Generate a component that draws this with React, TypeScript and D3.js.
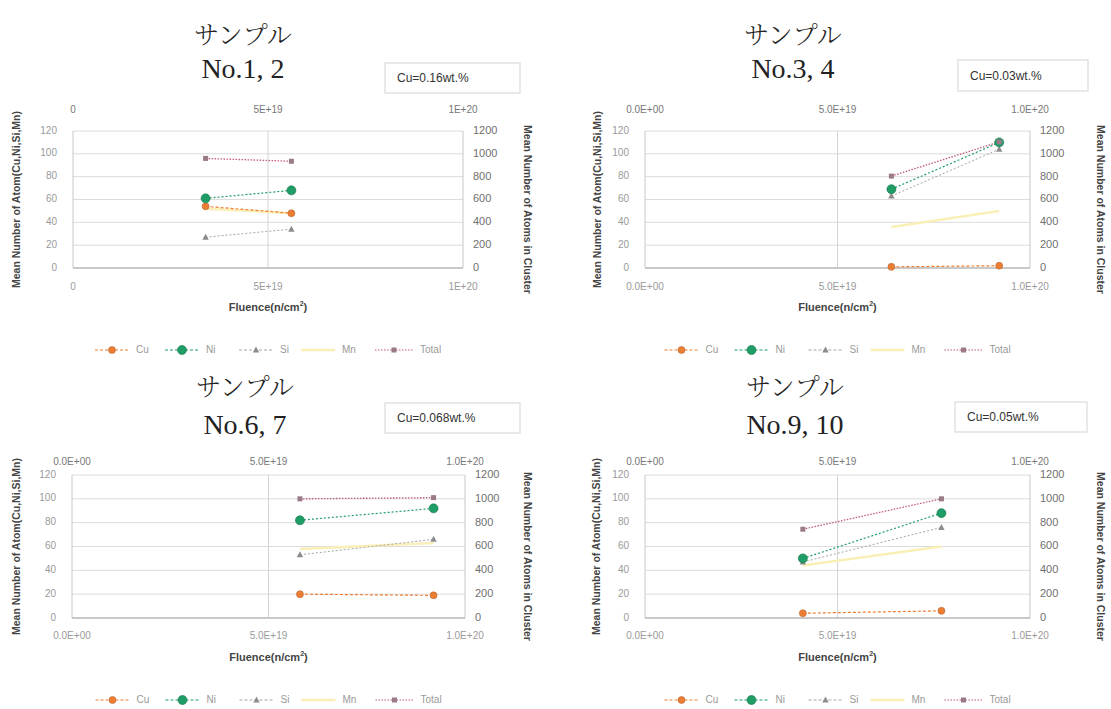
import React from "react";
import * as d3 from "d3";

const panelTitles = ["No.1, 2", "No.3, 4", "No.6, 7", "No.9, 10"];
const cuContents = ["Cu=0.16wt.%", "Cu=0.03wt.%", "Cu=0.068wt.%", "Cu=0.05wt.%"];
const fluence = [
  [3.4e19, 5.6e19],
  [6.4e19, 9.2e19],
  [5.8e19, 9.2e19],
  [4.1e19, 7.7e19],
];
const cuValues = [[54, 48], [1, 2], [20, 19], [4, 6]];
const niValues = [[61, 68], [69, 110], [82, 92], [50, 88]];
const siValues = [[27, 34], [63, 104], [53, 66], [47, 76]];
const mnValues = [[52, 48], [36, 50], [58, 63], [44, 60]];
const totalValues = [[960, 935], [805, 1105], [1000, 1010], [745, 1000]];
const leftTicks = [0, 20, 40, 60, 80, 100, 120];
const rightTicks = [0, 200, 400, 600, 800, 1000, 1200];
const xTickValues = [0, 5e19, 1e20];
const xTickLabelsShort = ["0", "5E+19", "1E+20"];
const xTickLabelsSci = ["0.0E+00", "5.0E+19", "1.0E+20"];
const seriesNames = ["Cu", "Ni", "Si", "Mn", "Total"];

const COLORS: Record<string, string> = {
  Cu: "#ED7D31",
  Ni: "#1E9E66",
  Si: "#A5A5A5",
  Mn: "#FBEFB8",
  Total: "#C05A78",
};

const layouts = [
  { px0: 73, px1: 463, py0: 131, py1: 268, tx: 243, t1: 38, t2: 72, box: [385, 63, 135, 30], topLab: 110, botLab: 287, flu: 308, leg: 350, lt: 17, rt: 527, lab: xTickLabelsShort },
  { px0: 645, px1: 1030, py0: 131, py1: 268, tx: 793, t1: 38, t2: 72, box: [958, 60, 130, 31], topLab: 110, botLab: 287, flu: 308, leg: 350, lt: 598, rt: 1100, lab: xTickLabelsSci },
  { px0: 72, px1: 465, py0: 475, py1: 618, tx: 245, t1: 390, t2: 428, box: [385, 403, 135, 30], topLab: 462, botLab: 636, flu: 658, leg: 700, lt: 17, rt: 527, lab: xTickLabelsSci },
  { px0: 645, px1: 1030, py0: 475, py1: 618, tx: 795, t1: 390, t2: 428, box: [955, 402, 132, 30], topLab: 462, botLab: 636, flu: 658, leg: 700, lt: 597, rt: 1100, lab: xTickLabelsSci },
];

function Marker({ name, x, y }: { name: string; x: number; y: number }) {
  const c = COLORS[name];
  if (name === "Cu") return <circle cx={x} cy={y} r={3.5} fill={c} stroke="#b36a3a" strokeWidth={0.6} />;
  if (name === "Ni") return <circle cx={x} cy={y} r={4.5} fill={c} stroke="#17704a" strokeWidth={0.6} />;
  if (name === "Si") return <path d={`M${x},${y - 3.5}L${x + 3.2},${y + 2.5}L${x - 3.2},${y + 2.5}Z`} fill="#8c8c8c" />;
  if (name === "Total") return <rect x={x - 2.5} y={y - 2.5} width={5} height={5} fill="#9a7a88" />;
  return null;
}

function Panel({ i }: { i: number }) {
  const L = layouts[i];
  const x = d3.scaleLinear().domain([0, 1e20]).range([L.px0, L.px1]);
  const yL = d3.scaleLinear().domain([0, 120]).range([L.py1, L.py0]);
  const yR = d3.scaleLinear().domain([0, 1200]).range([L.py1, L.py0]);
  const ym = (L.py0 + L.py1) / 2;
  const xm = (L.px0 + L.px1) / 2;
  const line = d3.line<[number, number]>().x((d) => d[0]).y((d) => d[1]);
  const fl = fluence[i];
  const series: { name: string; pts: [number, number][]; dash: string; w: number }[] = [
    { name: "Mn", pts: mnValues[i].map((v, k) => [x(fl[k]), yL(v)] as [number, number]), dash: "", w: 2.5 },
    { name: "Si", pts: siValues[i].map((v, k) => [x(fl[k]), yL(v)] as [number, number]), dash: "2,2", w: 1 },
    { name: "Cu", pts: cuValues[i].map((v, k) => [x(fl[k]), yL(v)] as [number, number]), dash: "3,2", w: 1.2 },
    { name: "Ni", pts: niValues[i].map((v, k) => [x(fl[k]), yL(v)] as [number, number]), dash: "2,2", w: 1.2 },
    { name: "Total", pts: totalValues[i].map((v, k) => [x(fl[k]), yR(v)] as [number, number]), dash: "1.5,1.5", w: 1.3 },
  ];
  const tickFont = { fontFamily: "Liberation Sans, Arial, sans-serif", fontSize: 10, fill: "#9a9a9a" };
  const legendItems = seriesNames;
  const legW = [70, 74, 62, 74, 70];
  const legTotal = legW.reduce((a, b) => a + b, 0);
  let lx = xm - legTotal / 2 + 2;
  return (
    <g>
      <text x={L.tx} y={L.t1} textAnchor="middle" dominantBaseline="middle" fontFamily="'Noto Serif CJK JP','Noto Sans CJK JP',serif" fontWeight={300} fontSize={25} fill="#222">サンプル</text>
      <text x={L.tx} y={L.t2} textAnchor="middle" dominantBaseline="middle" fontFamily="'Liberation Serif','DejaVu Serif',serif" fontSize={28} fill="#222">{panelTitles[i]}</text>
      <rect x={L.box[0]} y={L.box[1]} width={L.box[2]} height={L.box[3]} fill="#fff" stroke="#e2e2e2" strokeWidth={1.5} />
      <text x={L.box[0] + 12} y={L.box[1] + L.box[3] / 2 + 1} dominantBaseline="middle" fontFamily="Liberation Sans, Arial, sans-serif" fontSize={12} fill="#333">{cuContents[i]}</text>
      {leftTicks.map((t) => (
        <line key={"g" + t} x1={L.px0} x2={L.px1} y1={yL(t)} y2={yL(t)} stroke="#dcdcdc" strokeWidth={1} />
      ))}
      <line x1={x(5e19)} x2={x(5e19)} y1={L.py0} y2={L.py1} stroke="#d4d4d4" strokeWidth={1} />
      <line x1={L.px0} x2={L.px0} y1={L.py0} y2={L.py1} stroke="#c8c8c8" />
      <line x1={L.px1} x2={L.px1} y1={L.py0} y2={L.py1} stroke="#c8c8c8" />
      <line x1={L.px0} x2={L.px1} y1={L.py1} y2={L.py1} stroke="#bcbcbc" strokeWidth={1.5} />
      {leftTicks.map((t) => (
        <text key={"l" + t} x={L.px0 - 16} y={yL(t)} textAnchor="end" dominantBaseline="middle" {...tickFont}>{t}</text>
      ))}
      {rightTicks.map((t) => (
        <text key={"r" + t} x={L.px1 + 10} y={yR(t)} textAnchor="start" dominantBaseline="middle" {...tickFont} fill="#6f6f6f" fontSize={11}>{t}</text>
      ))}
      {xTickValues.map((t, k) => (
        <text key={"tt" + t} x={x(t)} y={L.topLab} textAnchor="middle" dominantBaseline="middle" {...tickFont} fill="#777">{L.lab[k]}</text>
      ))}
      {xTickValues.map((t, k) => (
        <text key={"bt" + t} x={x(t)} y={L.botLab} textAnchor="middle" dominantBaseline="middle" {...tickFont}>{L.lab[k]}</text>
      ))}
      <text x={xm} y={L.flu} textAnchor="middle" dominantBaseline="middle" fontFamily="Liberation Sans, Arial, sans-serif" fontWeight="bold" fontSize={11} fill="#444">
        Fluence(n/cm<tspan fontSize={7} dy={-4}>2</tspan><tspan dy={4}>)</tspan>
      </text>
      <text transform={`translate(${L.lt},${ym}) rotate(-90)`} textAnchor="middle" dominantBaseline="middle" fontFamily="Liberation Sans, Arial, sans-serif" fontWeight="bold" fontSize={10.5} fill="#444">Mean Number of Atom(Cu,Ni,Si,Mn)</text>
      <text transform={`translate(${L.rt},${ym + 10}) rotate(90)`} textAnchor="middle" dominantBaseline="middle" fontFamily="Liberation Sans, Arial, sans-serif" fontWeight="bold" fontSize={10.5} fill="#444">Mean Number of Atoms in Cluster</text>
      {series.map((s) => (
        <path key={"p" + s.name} d={line(s.pts) || ""} fill="none" stroke={COLORS[s.name]} strokeWidth={s.w} strokeDasharray={s.dash} />
      ))}
      {series.map((s) => s.pts.map((p, k) => <Marker key={s.name + k} name={s.name} x={p[0]} y={p[1]} />))}
      {legendItems.map((n, k) => {
        const x0 = lx;
        lx += legW[k];
        const sw = n === "Total" ? 38 : 34;
        const dash = n === "Mn" ? "" : n === "Total" ? "1.5,1.5" : "3,2";
        return (
          <g key={"leg" + n}>
            <line x1={x0} x2={x0 + sw} y1={L.leg} y2={L.leg} stroke={COLORS[n]} strokeWidth={n === "Mn" ? 2.5 : 1.2} strokeDasharray={dash} />
            <Marker name={n} x={x0 + sw / 2} y={L.leg} />
            <text x={x0 + sw + 7} y={L.leg} dominantBaseline="middle" fontFamily="Liberation Sans, Arial, sans-serif" fontSize={10} fill="#999">{n}</text>
          </g>
        );
      })}
    </g>
  );
}

export default function App() {
  return (
    <svg width={1111} height={709} style={{ display: "block", position: "absolute", left: 0, top: 0, background: "#fff" }}>
      <rect x={0} y={0} width={1111} height={709} fill="#fff" />
      {[0, 1, 2, 3].map((i) => (
        <Panel key={i} i={i} />
      ))}
    </svg>
  );
}
